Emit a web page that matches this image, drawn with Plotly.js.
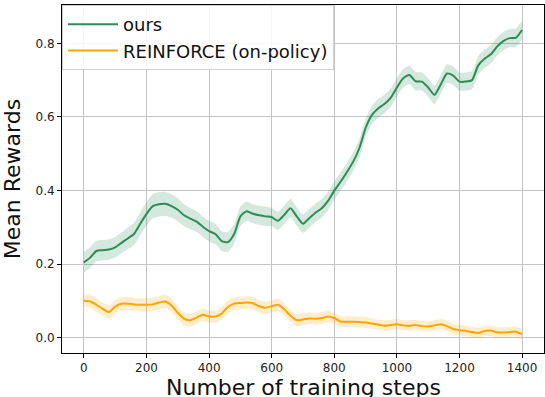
<!DOCTYPE html>
<html>
<head>
<meta charset="utf-8">
<script src="https://cdn.plot.ly/plotly-3.0.1.min.js"></script>
<style>
  html, body { margin: 0; padding: 0; background: #fff; }
  #chart { width: 545px; height: 397px; }
</style>
</head>
<body>
<div id="chart"></div>
<script>
// Training steps (evaluated every 20 steps)
const steps = [
  0, 20, 40, 60, 80, 100, 120, 140, 160, 180,
  200, 220, 240, 260, 280, 300, 320, 340, 360, 380,
  400, 420, 440, 460, 480, 500, 520, 540, 560, 580,
  600, 620, 640, 660, 680, 700, 720, 740, 760, 780,
  800, 820, 840, 860, 880, 900, 920, 940, 960, 980,
  1000, 1020, 1040, 1060, 1080, 1100, 1120, 1140, 1160, 1180,
  1200, 1220, 1240, 1260, 1280, 1300, 1320, 1340, 1360, 1380,
  1400
];

// Mean reward of our method
const oursMean = [
  0.205, 0.218, 0.236, 0.238, 0.240, 0.246, 0.258, 0.270, 0.282, 0.310,
  0.337, 0.358, 0.363, 0.364, 0.358, 0.348, 0.333, 0.324, 0.316, 0.302,
  0.290, 0.282, 0.263, 0.260, 0.282, 0.330, 0.344, 0.337, 0.333, 0.330,
  0.328, 0.318, 0.334, 0.352, 0.330, 0.310, 0.325, 0.340, 0.352, 0.372,
  0.400, 0.424, 0.450, 0.478, 0.515, 0.570, 0.605, 0.623, 0.635, 0.652,
  0.680, 0.705, 0.714, 0.697, 0.696, 0.680, 0.660, 0.688, 0.718, 0.712,
  0.696, 0.696, 0.700, 0.740, 0.758, 0.770, 0.791, 0.806, 0.814, 0.815,
  0.836
];

// Spread (half-width of the shaded band) for our method
const oursStd = [
  0.028, 0.028, 0.028, 0.028, 0.028, 0.028, 0.028, 0.029, 0.030, 0.031,
  0.032, 0.033, 0.033, 0.033, 0.032, 0.031, 0.030, 0.029, 0.028, 0.028,
  0.028, 0.028, 0.027, 0.027, 0.027, 0.027, 0.026, 0.026, 0.026, 0.026,
  0.025, 0.025, 0.025, 0.025, 0.025, 0.025, 0.025, 0.025, 0.025, 0.025,
  0.025, 0.025, 0.025, 0.025, 0.025, 0.025, 0.025, 0.025, 0.025, 0.025,
  0.025, 0.025, 0.025, 0.025, 0.025, 0.025, 0.025, 0.025, 0.025, 0.025,
  0.025, 0.025, 0.025, 0.025, 0.025, 0.025, 0.025, 0.025, 0.025, 0.025,
  0.025
];

// Mean reward of the on-policy REINFORCE baseline
const reinforceMean = [
  0.101, 0.099, 0.090, 0.079, 0.070, 0.085, 0.093, 0.093, 0.091, 0.090,
  0.090, 0.091, 0.096, 0.099, 0.088, 0.068, 0.052, 0.048, 0.055, 0.063,
  0.058, 0.058, 0.066, 0.084, 0.093, 0.095, 0.096, 0.094, 0.086, 0.082,
  0.086, 0.090, 0.078, 0.060, 0.048, 0.050, 0.053, 0.052, 0.054, 0.058,
  0.054, 0.044, 0.044, 0.044, 0.043, 0.042, 0.039, 0.036, 0.033, 0.035,
  0.037, 0.034, 0.033, 0.035, 0.032, 0.031, 0.034, 0.037, 0.032, 0.024,
  0.021, 0.019, 0.016, 0.013, 0.019, 0.020, 0.015, 0.015, 0.016, 0.017,
  0.010
];

// Spread for the baseline
const reinforceStd = [
  0.018, 0.018, 0.018, 0.018, 0.018, 0.018, 0.018, 0.018, 0.018, 0.018,
  0.018, 0.018, 0.018, 0.018, 0.018, 0.018, 0.017, 0.017, 0.017, 0.017,
  0.017, 0.017, 0.017, 0.017, 0.017, 0.017, 0.017, 0.017, 0.017, 0.017,
  0.017, 0.017, 0.017, 0.016, 0.016, 0.016, 0.016, 0.016, 0.016, 0.016,
  0.015, 0.015, 0.015, 0.015, 0.015, 0.015, 0.014, 0.014, 0.014, 0.014,
  0.014, 0.014, 0.014, 0.014, 0.014, 0.014, 0.014, 0.014, 0.014, 0.014,
  0.014, 0.014, 0.014, 0.014, 0.014, 0.014, 0.014, 0.014, 0.014, 0.014,
  0.014
];

const seriesNames = ['ours', 'REINFORCE (on-policy)'];
const xTicks = [0, 200, 400, 600, 800, 1000, 1200, 1400];
const yTicks = [0.0, 0.2, 0.4, 0.6, 0.8];
const xTitle = 'Number of training steps';
const yTitle = 'Mean Rewards';

const GREEN = '#2e8b57';
const ORANGE = '#ffa500';

function band(mean, std, rgba) {
  const upper = mean.map((m, i) => m + std[i]);
  const lower = mean.map((m, i) => m - std[i]);
  return [
    { x: steps, y: upper, mode: 'lines', line: { width: 0, shape: 'spline', smoothing: 0.6 },
      hoverinfo: 'skip', showlegend: false },
    { x: steps, y: lower, mode: 'lines', line: { width: 0, shape: 'spline', smoothing: 0.6 },
      fill: 'tonexty', fillcolor: rgba, hoverinfo: 'skip', showlegend: false }
  ];
}

const traces = [
  ...band(oursMean, oursStd, 'rgba(46,139,87,0.2)'),
  ...band(reinforceMean, reinforceStd, 'rgba(255,165,0,0.2)'),
  { x: steps, y: oursMean, mode: 'lines', name: seriesNames[0],
    line: { color: GREEN, width: 2, shape: 'spline', smoothing: 0.6 } },
  { x: steps, y: reinforceMean, mode: 'lines', name: seriesNames[1],
    line: { color: ORANGE, width: 2, shape: 'spline', smoothing: 0.6 } }
];

const axisCommon = {
  showline: true, mirror: true, linecolor: '#000', linewidth: 1,
  ticks: 'outside', ticklen: 4, tickwidth: 1, tickcolor: '#000',
  showgrid: true, gridcolor: '#c4c4c4', gridwidth: 1,
  zeroline: false,
  tickfont: { family: 'DejaVu Sans', size: 12, color: '#222' }
};

const layout = {
  width: 545, height: 397,
  margin: { l: 62, r: 1, t: 5, b: 44 },
  paper_bgcolor: '#fff', plot_bgcolor: '#fff',
  font: { family: 'DejaVu Sans', color: '#000' },
  showlegend: true,
  legend: {
    x: 0, y: 1, xanchor: 'left', yanchor: 'top',
    traceorder: 'normal',
    bgcolor: 'rgba(255,255,255,0.85)', bordercolor: '#d0d0d0', borderwidth: 1,
    font: { family: 'DejaVu Sans', size: 18, color: '#111' },
    itemwidth: 50, tracegroupgap: 0
  },
  xaxis: Object.assign({}, axisCommon, {
    range: [-70, 1470], tickvals: xTicks, ticktext: xTicks.map(String)
  }),
  yaxis: Object.assign({}, axisCommon, {
    range: [-0.041, 0.904], tickvals: yTicks, ticktext: yTicks.map(v => v.toFixed(1)),
    title: { text: yTitle, standoff: 12,
             font: { family: 'DejaVu Sans', size: 22, color: '#111' } }
  }),
  // x-axis caption placed low, under the tick labels at the page's foot
  annotations: [{
    text: xTitle, xref: 'paper', yref: 'paper', x: 0.5, y: 0,
    xanchor: 'center', yanchor: 'middle', yshift: -34, showarrow: false,
    font: { family: 'DejaVu Sans', size: 22, color: '#111' }
  }]
};

Plotly.newPlot('chart', traces, layout, { displayModeBar: false, staticPlot: true });
</script>
</body>
</html>
